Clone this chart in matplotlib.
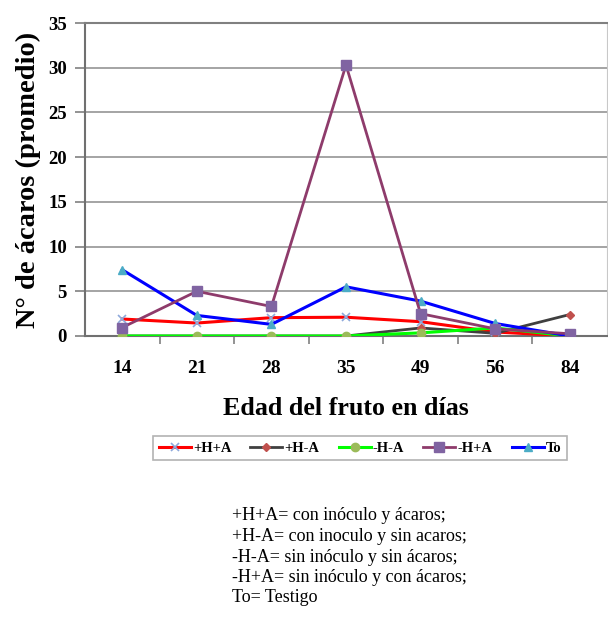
import numpy as np
import matplotlib
matplotlib.use("Agg")
import matplotlib.pyplot as plt

plt.rcParams['font.family'] = ['Liberation Serif', 'DejaVu Serif']

dias = ["14", "21", "28", "35", "49", "56", "84"]
hpa = [1.9, 1.45, 2.05, 2.1, 1.6, 0.45, 0.0]      # +H+A
hma = [0.0, 0.0, 0.0, 0.0, 0.9, 0.3, 2.4]         # +H-A
mhma = [0.0, 0.0, 0.0, 0.0, 0.35, 0.9, 0.0]       # -H-A
mhpa = [0.95, 5.0, 3.3, 30.3, 2.5, 0.8, 0.25]     # -H+A
testigo = [7.4, 2.3, 1.3, 5.5, 3.9, 1.4, 0.0]     # To

notas = ["+H+A= con inóculo y ácaros;",
         "+H-A= con inoculo y sin acaros;",
         "-H-A= sin inóculo y sin ácaros;",
         "-H+A= sin inóculo y con ácaros;",
         "To= Testigo"]

x = np.arange(len(dias))

fig = plt.figure(figsize=(6.08, 6.18), dpi=100)
ax = fig.add_axes([85/608, 1-336/618, 522/608, 313/618])

ax.plot(x, hpa, color="#FF0000", lw=2.2, marker="x", ms=6, mec="#8EA9DB", mew=1.2, label="+H+A", zorder=3)
ax.plot(x, hma, color="#404040", lw=2.0, marker="D", ms=4, mfc="#C0504D", mec="#C0504D", label="+H-A", zorder=3)
ax.plot(x, mhma, color="#00FF00", lw=2.2, marker="o", ms=6, mfc="#9BBB59", mec="#9BBB59", label="-H-A", zorder=3)
ax.plot(x, mhpa, color="#8E3B6B", lw=2.0, marker="s", ms=6.5, mfc="#8064A2", mec="#8064A2", label="-H+A", zorder=4)
ax.plot(x, testigo, color="#0000FF", lw=2.2, marker="^", ms=6, mfc="#4BACC6", mec="#4BACC6", label="To", zorder=3)

ax.set_xlim(-0.5, len(dias) - 0.5)
ax.set_ylim(0, 35)
ax.set_yticks(np.arange(0, 36, 5))
ax.yaxis.grid(True, color="#959595", lw=1.2)
ax.set_axisbelow(True)

ax.set_xticks(x)
ax.set_xticklabels(dias, fontsize=14, fontweight="bold")
ax.set_xticks(np.arange(-0.5, len(dias), 1)[1:-1], minor=True)
ax.tick_params(axis="x", which="major", length=0, pad=17)
ax.tick_params(axis="x", which="minor", length=6, width=1.2, color="#808080", direction="out")
ax.tick_params(axis="y", length=7, width=1.2, color="#808080", pad=6)
for t in ax.get_yticklabels():
    t.set_fontsize(13.5)
    t.set_fontweight("bold")

for s in ["left", "bottom"]:
    ax.spines[s].set_color("#707070")
    ax.spines[s].set_linewidth(1.5)
ax.spines["top"].set_color("#808080")
ax.spines["top"].set_linewidth(1.5)
ax.spines["right"].set_color("#C8C8C8")
ax.spines["right"].set_linewidth(0.8)

ax.set_ylabel("N° de ácaros (promedio)", fontsize=20.5, fontweight="bold", labelpad=5)
ax.set_xlabel("Edad del fruto en días", fontsize=18.7, fontweight="bold", labelpad=15)

leg = fig.legend(loc="center", bbox_to_anchor=(360/608, 1-448/618), ncol=5,
                 prop={"family": "Liberation Serif", "weight": "bold", "size": 10.5},
                 handlelength=2.2, handletextpad=0.15, columnspacing=1.3,
                 fancybox=False, edgecolor="#A0A0A0", borderpad=0.4)
leg.get_frame().set_linewidth(1.2)

for i, n in enumerate(notas):
    fig.text(232/608, 1-(516+i*20.5)/618, n, fontsize=13, va="center", ha="left")

fig.savefig("out.png", dpi=100)
